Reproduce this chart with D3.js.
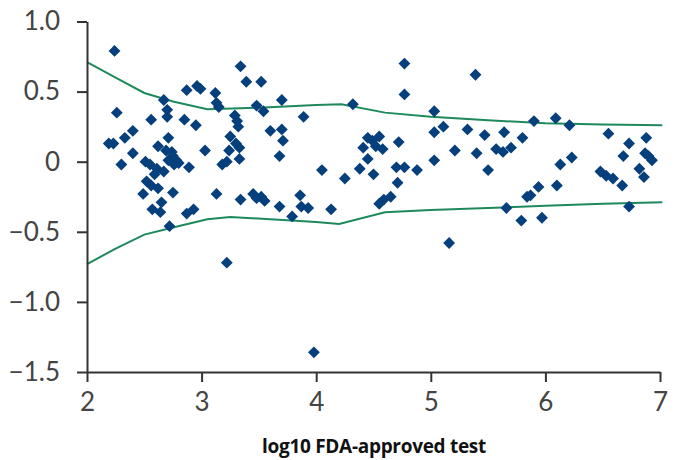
<!DOCTYPE html>
<html>
<head>
<meta charset="utf-8">
<script src="https://cdn.jsdelivr.net/npm/d3@7"></script>
<style>
  body { margin: 0; background: #fff; }
  svg { display: block; }
  .tick text { font-family: Lato, "Open Sans", sans-serif; fill: #444; }
  .xlabel { font-family: "Open Sans", sans-serif; font-weight: 700; }
</style>
</head>
<body>
<div class="chart"></div>
<script>
// scatter points (x = log10 FDA-approved test, y = difference)
var pointX = [2.24,2.26,2.19,2.23,2.33,2.40,2.40,2.30,2.56,2.67,2.70,2.70,2.62,2.71,2.69,2.74,2.75,2.71,2.78,2.76,
    2.80,2.51,2.55,2.61,2.67,2.59,2.52,2.56,2.62,2.49,2.75,2.85,2.87,2.96,2.99,2.95,2.89,3.03,3.12,3.13,
    3.15,3.18,3.22,3.24,3.30,3.33,3.25,3.29,3.31,3.32,3.33,3.34,3.39,3.52,3.48,3.54,3.60,3.70,3.71,3.68,
    3.70,3.89,4.05,3.13,3.34,3.45,3.52,3.55,3.48,3.68,3.86,3.87,3.93,3.79,4.13,2.57,2.64,2.65,2.87,2.93,
    2.72,3.22,3.98,4.77,4.77,4.32,5.03,5.39,5.03,5.11,5.32,5.47,5.64,5.80,5.90,6.09,6.21,6.55,6.73,6.88,
    6.68,6.87,6.90,6.93,6.82,6.86,6.67,6.48,6.53,6.59,6.73,6.23,6.13,6.10,5.94,5.87,5.84,5.66,5.79,5.97,
    5.57,5.63,5.70,5.40,5.50,5.21,5.03,4.72,4.70,4.77,4.88,4.71,4.45,4.49,4.55,4.52,4.58,4.41,4.45,4.38,
    4.50,4.25,4.65,4.59,4.55,5.16];
var pointY = [0.79,0.35,0.13,0.13,0.17,0.22,0.06,-0.02,0.30,0.44,0.37,0.32,0.11,0.17,0.08,0.07,0.04,0.01,0.01,-0.02,
    -0.01,0.00,-0.02,-0.05,-0.07,-0.09,-0.14,-0.17,-0.19,-0.23,-0.22,0.30,0.51,0.54,0.52,0.26,-0.04,0.08,0.49,0.42,
    0.39,-0.02,0.00,0.08,0.13,0.10,0.18,0.33,0.29,0.25,0.02,0.68,0.57,0.57,0.40,0.36,0.22,0.23,0.15,0.04,
    0.44,0.32,-0.06,-0.23,-0.27,-0.23,-0.25,-0.28,-0.26,-0.32,-0.24,-0.32,-0.33,-0.39,-0.34,-0.34,-0.36,-0.29,-0.37,-0.34,
    -0.46,-0.72,-1.36,0.70,0.48,0.41,0.36,0.62,0.21,0.25,0.23,0.19,0.21,0.17,0.29,0.31,0.26,0.20,0.13,0.17,
    0.04,0.06,0.04,0.01,-0.05,-0.11,-0.17,-0.07,-0.10,-0.12,-0.32,0.03,-0.02,-0.17,-0.18,-0.24,-0.25,-0.33,-0.42,-0.40,
    0.09,0.07,0.10,0.06,-0.06,0.08,0.01,0.14,-0.04,-0.04,-0.06,-0.15,0.17,0.15,0.18,0.11,0.09,0.10,0.02,-0.05,
    -0.09,-0.12,-0.25,-0.27,-0.30,-0.58];

// limits of agreement curves
var upperX = [2.0,2.25,2.5,2.75,3.05,3.5,4.0,4.22,4.6,5.0,5.5,6.0,6.5,7.02];
var upperY = [0.71,0.60,0.49,0.43,0.375,0.385,0.405,0.41,0.35,0.32,0.295,0.275,0.265,0.26];
var lowerX = [2.0,2.25,2.5,2.75,3.05,3.25,3.6,4.0,4.2,4.6,5.0,5.5,6.0,6.5,7.02];
var lowerY = [-0.73,-0.62,-0.52,-0.47,-0.41,-0.395,-0.41,-0.43,-0.445,-0.36,-0.345,-0.33,-0.315,-0.30,-0.29];

var xTicks = [2, 3, 4, 5, 6, 7];
var yTicks = [1.0, 0.5, 0, -0.5, -1.0, -1.5];
var yTickLabels = ["1.0", "0.5", "0", "\u22120.5", "\u22121.0", "\u22121.5"];
var xTitle = "log10 FDA-approved test";

var width = 677, height = 460;
var svg = d3.select(".chart").append("svg")
    .attr("width", width)
    .attr("height", height);

var x = d3.scaleLinear().domain([2, 7]).range([87, 660]);
var y = d3.scaleLinear().domain([-1.5, 1]).range([372, 21.5]);

var line = d3.line()
    .x(function(d) { return x(d[0]); })
    .y(function(d) { return y(d[1]); });

var upper = d3.zip(upperX, upperY);
var lower = d3.zip(lowerX, lowerY);

svg.selectAll("path.band")
    .data([upper, lower])
    .enter()
    .append("path")
    .attr("class", "band")
    .attr("d", line)
    .attr("fill", "none")
    .attr("stroke", "#1e8a5c")
    .attr("stroke-width", 2);

var diamond = d3.symbol().type(d3.symbolSquare).size(70);

svg.selectAll("path.pt")
    .data(d3.zip(pointX, pointY))
    .enter()
    .append("path")
    .attr("class", "pt")
    .attr("d", diamond)
    .attr("transform", function(d) {
        return "translate(" + x(d[0]) + "," + y(d[1]) + ") rotate(45)";
    })
    .attr("fill", "#053f7c");

var xAxis = svg.append("g")
    .attr("transform", "translate(0," + y(-1.5) + ")")
    .call(d3.axisBottom(x).tickValues(xTicks).tickSize(10).tickSizeOuter(0).tickPadding(11)
        .tickFormat(d3.format("d")));

var yAxis = svg.append("g")
    .attr("transform", "translate(" + x(2) + ",0)")
    .call(d3.axisLeft(y).tickValues(yTicks).tickSize(10).tickSizeOuter(0).tickPadding(17)
        .tickFormat(function(d, i) { return yTickLabels[i]; }));

[xAxis, yAxis].forEach(function(g) {
    g.select(".domain").attr("stroke", "#333").attr("stroke-width", 2);
    g.selectAll(".tick line").attr("stroke", "#333").attr("stroke-width", 2);
    g.selectAll(".tick text").style("font-size", "26px");
});

svg.append("text")
    .attr("class", "xlabel")
    .attr("x", 374)
    .attr("y", 453)
    .attr("text-anchor", "middle")
    .style("font-size", "19px")
    .style("letter-spacing", "-0.3px")
    .attr("fill", "#111")
    .text(xTitle);
</script>
</body>
</html>
